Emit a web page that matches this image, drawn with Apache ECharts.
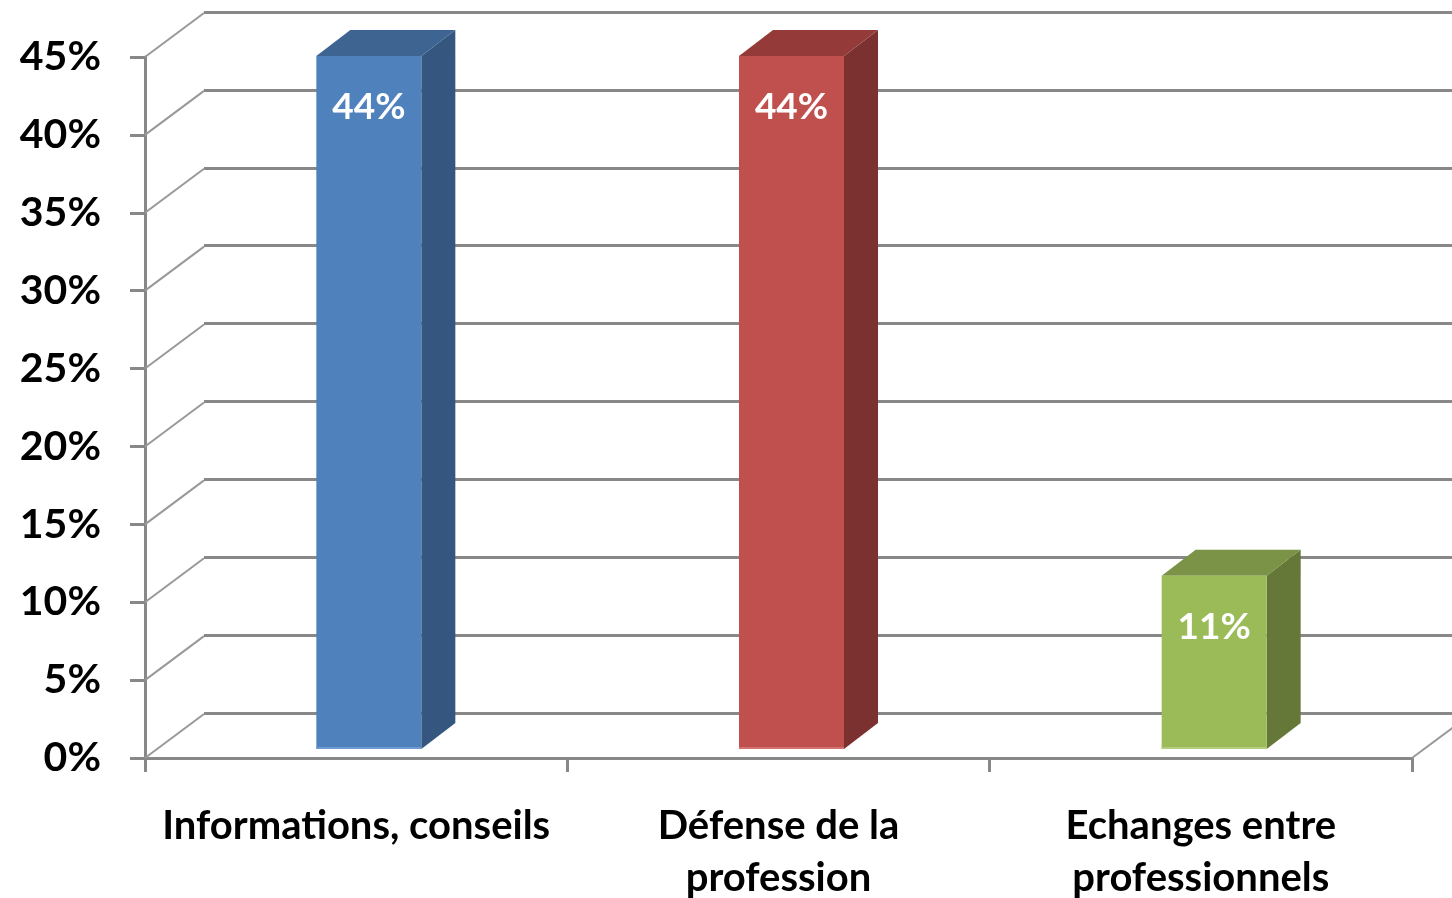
<!DOCTYPE html>
<html>
<head>
<meta charset="utf-8">
<script src="https://cdn.jsdelivr.net/npm/echarts@6/dist/echarts.min.js"></script>
<style>
html,body{margin:0;padding:0;background:#fff;}
#chart{width:1452px;height:898px;}
</style>
</head>
<body>
<div id="chart"></div>
<script>
// ---- data ----
const categories = ['Informations, conseils', 'Défense de la\nprofession', 'Echanges entre\nprofessionnels'];
const values = [0.44, 0.44, 0.11];
const yTicks = [0, 0.05, 0.10, 0.15, 0.20, 0.25, 0.30, 0.35, 0.40, 0.45];
const yMin = 0, yMax = 0.45, yStep = 0.05;

// ---- styles ----
const barStyles = [
  { front: '#4F81BD', side: '#34567F', top: '#3E6491', edge: '#6F9BD2' },
  { front: '#C0504D', side: '#7B3130', top: '#943B39', edge: '#D27370' },
  { front: '#9BBB59', side: '#657837', top: '#7A9346', edge: '#B3CE7C' }
];
const FONT = 'Lato';
const lineGray = '#888888';
const pct = v => Math.round(v * 100) + '%';

const chart = echarts.init(document.getElementById('chart'));
chart.setOption({
  animation: false,
  backgroundColor: '#ffffff',
  grid: [
    { left: 145, right: 40, top: 57, bottom: 140, outerBoundsMode: 'none', containLabel: false },      // front plane
    { left: 204, right: 0, top: 12, bottom: 185, outerBoundsMode: 'none', containLabel: false },       // back wall
    { left: 157.5, right: 26.5, top: 40.25, bottom: 149, outerBoundsMode: 'none', containLabel: false } // bar plane
  ],
  xAxis: [
    {
      gridIndex: 0, type: 'category', data: categories, boundaryGap: true,
      axisLine: { show: true, lineStyle: { color: lineGray, width: 3 } },
      axisTick: { show: true, length: 14, lineStyle: { color: lineGray, width: 3 } },
      axisLabel: {
        interval: 0, margin: 42, color: '#000', fontFamily: FONT, fontWeight: 'bold',
        fontSize: 40, lineHeight: 52
      },
      splitLine: { show: false }
    },
    { gridIndex: 1, type: 'category', data: categories, show: false },
    { gridIndex: 2, type: 'category', data: categories, show: false }
  ],
  yAxis: [
    {
      gridIndex: 0, type: 'value', min: yMin, max: yMax, interval: yStep,
      axisLine: { show: true, lineStyle: { color: lineGray, width: 3 } },
      axisTick: { show: true, length: 15, lineStyle: { color: lineGray, width: 3 } },
      axisLabel: {
        margin: 44, color: '#000', fontFamily: FONT, fontWeight: 'bold', fontSize: 41,
        formatter: pct
      },
      splitLine: { show: false }
    },
    {
      gridIndex: 1, type: 'value', min: yMin, max: yMax, interval: yStep,
      axisLine: { show: false }, axisTick: { show: false }, axisLabel: { show: false },
      splitLine: { show: true, lineStyle: { color: lineGray, width: 3 } }
    },
    { gridIndex: 2, type: 'value', min: yMin, max: yMax, interval: yStep, show: false,
      splitLine: { show: false } }
  ],
  series: [
    {
      // side wall gridlines (diagonals) + right floor edge
      type: 'custom', xAxisIndex: 0, yAxisIndex: 0, z: 1, clip: false, silent: true,
      data: yTicks.map(v => [0, v]),
      renderItem: function (params, api) {
        const cs = params.coordSys;
        const y = api.coord([0, api.value(1)])[1];
        const children = [{
          type: 'line',
          shape: { x1: cs.x, y1: y, x2: cs.x + 59, y2: y - 44 },
          style: { stroke: '#999999', lineWidth: 2 }
        }];
        if (api.value(1) === 0) {
          children.push({
            type: 'line',
            shape: { x1: cs.x + cs.width, y1: y, x2: cs.x + cs.width + 59, y2: y - 44 },
            style: { stroke: '#999999', lineWidth: 2 }
          });
        }
        return { type: 'group', children: children };
      }
    },
    {
      // 3D bars
      type: 'custom', xAxisIndex: 2, yAxisIndex: 2, z: 5, clip: false,
      data: values.map((v, i) => [i, v]),
      renderItem: function (params, api) {
        const i = api.value(0), v = api.value(1);
        const st = barStyles[i % barStyles.length];
        const topP = api.coord([i, v]);
        const baseP = api.coord([i, 0]);
        const w = 105, dx = 34, dy = -26;
        const x0 = topP[0] - w / 2, x1 = topP[0] + w / 2;
        const yt = topP[1], yb = baseP[1];
        return {
          type: 'group',
          children: [
            { type: 'polygon', shape: { points: [[x1, yt], [x1 + dx, yt + dy], [x1 + dx, yb + dy], [x1, yb]] },
              style: { fill: st.side } },
            { type: 'polygon', shape: { points: [[x0, yt], [x0 + dx, yt + dy], [x1 + dx, yt + dy], [x1, yt]] },
              style: { fill: st.top } },
            { type: 'rect', shape: { x: x0, y: yt, width: w, height: yb - yt },
              style: { fill: st.front } },
            { type: 'rect', shape: { x: x0, y: yb - 2, width: w, height: 2 },
              style: { fill: st.edge } },
            { type: 'text', x: topP[0], y: yt + 51,
              style: { text: pct(v), fill: '#ffffff', font: 'bold 37px ' + FONT,
                       align: 'center', verticalAlign: 'middle' } }
          ]
        };
      }
    }
  ]
});
</script>
</body>
</html>
